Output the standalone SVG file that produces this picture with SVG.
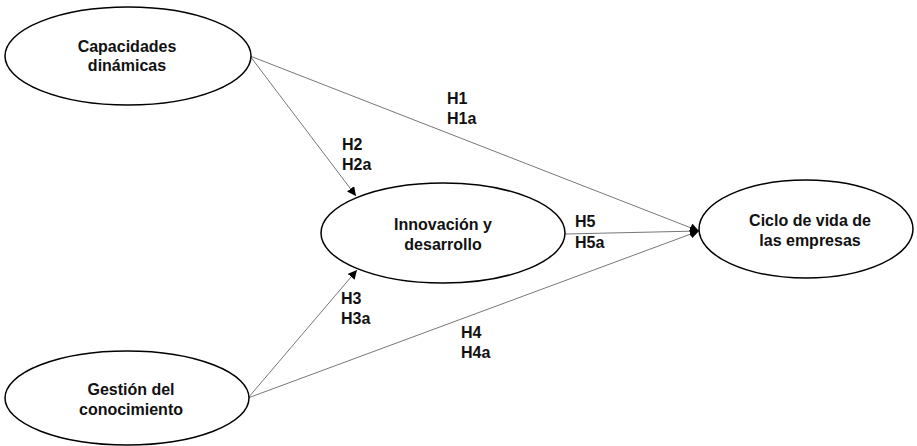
<svg xmlns="http://www.w3.org/2000/svg" width="917" height="446" viewBox="0 0 917 446">
<defs>
<marker id="arr" viewBox="0 0 10 10" refX="10" refY="5" markerWidth="9" markerHeight="9" markerUnits="userSpaceOnUse" orient="auto">
<path d="M0,0 L10,5 L0,10 z" fill="#000"/>
</marker>
</defs>
<style>
.node ellipse{fill:#fff;stroke:#000;stroke-width:1.5}
text{font-family:"Liberation Sans",Arial,sans-serif;font-weight:bold;font-size:16px;fill:#111}
.n{text-anchor:middle}
.edge{stroke:#777;stroke-width:1;fill:none}
.ar{marker-end:url(#arr)}
</style>
<rect width="917" height="446" fill="#fff"/>
<g id="connectors">
<line class="edge ar" x1="250" y1="56" x2="699" y2="231"/>
<line class="edge ar" x1="250" y1="56" x2="356" y2="196"/>
<line class="edge ar" x1="248" y1="398" x2="357" y2="270"/>
<line class="edge ar" x1="248" y1="398" x2="699" y2="231"/>
<line class="edge ar" x1="565" y1="234" x2="699" y2="231"/>
</g>
<g id="labels">
<text x="447" y="104">H1</text>
<text x="447" y="124">H1a</text>
<text x="342" y="150">H2</text>
<text x="342" y="170">H2a</text>
<text x="341" y="304">H3</text>
<text x="341" y="324">H3a</text>
<text x="461" y="338">H4</text>
<text x="461" y="358">H4a</text>
<text x="575" y="227">H5</text>
<text x="575" y="248">H5a</text>
</g>
<g id="capacidades" class="node">
<ellipse cx="128" cy="56" rx="123" ry="49"/>
<text class="n" x="127" y="52">Capacidades</text>
<text class="n" x="127" y="71">dinámicas</text>
</g>
<g id="gestion" class="node">
<ellipse cx="127" cy="398" rx="122" ry="47"/>
<text class="n" x="131" y="395">Gestión del</text>
<text class="n" x="131" y="415">conocimiento</text>
</g>
<g id="innovacion" class="node">
<ellipse cx="443" cy="233" rx="122" ry="50"/>
<text class="n" x="443" y="230">Innovación y</text>
<text class="n" x="443" y="250">desarrollo</text>
</g>
<g id="ciclo" class="node">
<ellipse cx="806" cy="229" rx="107" ry="49"/>
<text class="n" x="810" y="226">Ciclo de vida de</text>
<text class="n" x="810" y="246">las empresas</text>
</g>
</svg>
